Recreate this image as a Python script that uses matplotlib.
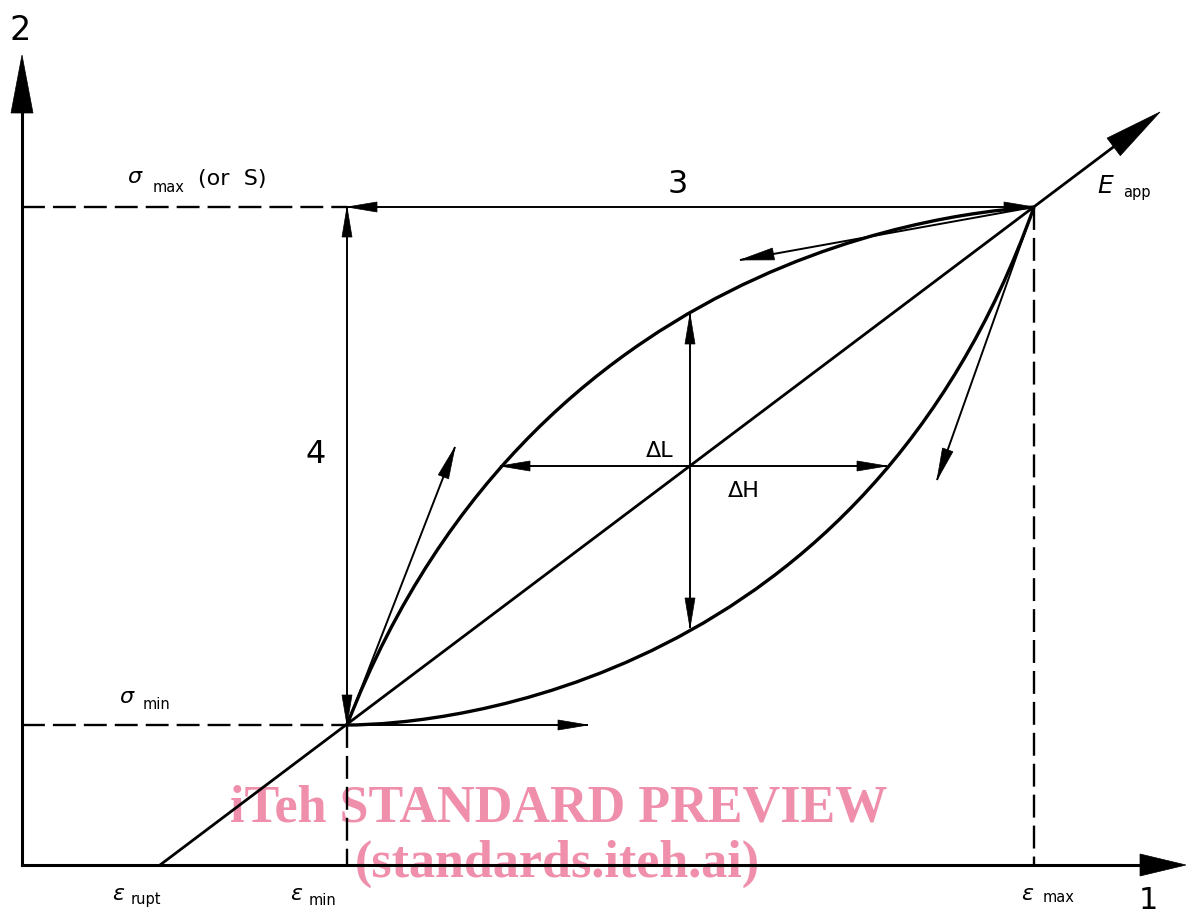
import numpy as np
import matplotlib
matplotlib.use("Agg")
import matplotlib.pyplot as plt
from matplotlib.path import Path
from matplotlib.patches import PathPatch, Polygon

# drawing units = pixels of the original sheet, y grows downwards
origin = (22, 865)
y_axis_tip = 55
x_axis_tip = 1186
eps_rupt = 160
eps_min, sigma_min = 347, 725
eps_max, sigma_max = 1034, 207
e_app_tip = (1160, 112)

# loading / unloading branches (cubic bezier control points)
upper_ctrl = [(347, 725), (542, 222), (1014, 210), (1034, 207)]
lower_ctrl = [(347, 725), (447, 725), (865, 682), (1034, 207)]

# tangent arrows at both ends of the loop
tan_up_min = (455, 447)
tan_low_min = (588, 725)
tan_up_max = (740, 260)
tan_low_max = (937, 480)

# delta L / delta H measuring arrows
dl_x, dl_top, dl_bottom = 690, 314, 628
dh_y, dh_left, dh_right = 466, 500, 887

FONT = ["Liberation Sans Narrow", "DejaVu Sans"]
THICK = 2.2
THIN = 1.4

fig = plt.figure(figsize=(11.86, 9.16), dpi=100)
ax = fig.add_axes([0, 0, 1, 1])
ax.set_xlim(0, 1186)
ax.set_ylim(916, 0)
ax.axis("off")


def head(tip, frm, length=30, width=10):
    tip = np.asarray(tip, float)
    d = tip - np.asarray(frm, float)
    d /= np.hypot(*d)
    n = np.array([-d[1], d[0]])
    base = tip - d * length
    ax.add_patch(Polygon([tip, base + n * width / 2, base - n * width / 2], closed=True,
                         fc="black", ec="black", lw=0.5, zorder=3))


def arrow(p, q, lw=THIN, both=False, length=30, width=10):
    ax.plot([p[0], q[0]], [p[1], q[1]], color="black", lw=lw, solid_capstyle="butt", zorder=2)
    head(q, p, length, width)
    if both:
        head(p, q, length, width)


def label(x, y, sym, sub=None, sub_dx=0, sub_dy=0, size=16, sub_size=10.5, italic=True):
    ax.text(x, y, sym, fontsize=size, family=FONT, style="italic" if italic else "normal",
            va="baseline", ha="left", zorder=4)
    if sub:
        ax.text(x + sub_dx, y + sub_dy, sub, fontsize=sub_size, family=FONT,
                va="baseline", ha="left", zorder=4)


# axes
ax.plot([origin[0], origin[0]], [origin[1], y_axis_tip + 50], color="black", lw=THICK)
head((origin[0], y_axis_tip), origin, 58, 22)
ax.plot([origin[0], x_axis_tip - 40], [origin[1], origin[1]], color="black", lw=THICK)
head((x_axis_tip, origin[1]), origin, 46, 22)

# dashed guides
dash = dict(color="black", lw=1.7, dashes=(9.7, 3.4))
ax.plot([origin[0], eps_min], [sigma_max, sigma_max], **dash)
ax.plot([origin[0], eps_min], [sigma_min, sigma_min], **dash)
ax.plot([eps_min, eps_min], [sigma_min, origin[1]], **dash)
ax.plot([eps_max, eps_max], [sigma_max, origin[1]], **dash)

# apparent modulus line
ax.plot([eps_rupt, e_app_tip[0] - 40], [origin[1], e_app_tip[1] + 30], color="black", lw=2.0)
head(e_app_tip, (eps_rupt, origin[1]), 58, 22)

# loop
for ctrl in (upper_ctrl, lower_ctrl):
    path = Path(ctrl, [Path.MOVETO, Path.CURVE4, Path.CURVE4, Path.CURVE4])
    ax.add_patch(PathPatch(path, fc="none", ec="black", lw=2.4, zorder=2))

# dimension arrows
arrow((eps_min, sigma_max), (eps_max, sigma_max), both=True)
arrow((eps_min, sigma_max), (eps_min, sigma_min), both=True)
arrow((dl_x, dl_top), (dl_x, dl_bottom), both=True)
arrow((dh_left, dh_y), (dh_right, dh_y), both=True)

# tangents
arrow((eps_min, sigma_min), tan_up_min, length=32, width=11)
arrow((eps_min, sigma_min), tan_low_min)
arrow((eps_max, sigma_max), tan_up_max, length=34, width=12)
arrow((eps_max, sigma_max), tan_low_max, length=32, width=11)

# numbered keys
ax.text(20, 40, "2", fontsize=24, family=FONT, ha="center", va="baseline")
ax.text(1148, 915, "1", fontsize=22, family=FONT, ha="center", va="bottom")
ax.text(678, 193, "3", fontsize=23, family=FONT, ha="center", va="baseline")
ax.text(316, 463, "4", fontsize=23, family=FONT, ha="center", va="baseline")

# symbols
label(127, 183, "σ", "max", 26, 9)
ax.text(198, 185, "(or  S)", fontsize=16, family=FONT, va="baseline")
label(119, 703, "σ", "min", 24, 6)
label(112, 900, "ε", "rupt", 19, 4)
label(290, 900, "ε", "min", 19, 5)
label(1021, 900, "ε", "max", 22, 2)
label(1097, 193, "E", "app", 26, 4, size=18)
ax.text(646, 457, "ΔL", fontsize=16, family=FONT, va="baseline")
ax.text(728, 497, "ΔH", fontsize=16, family=FONT, va="baseline")

# preview watermark
wm = dict(fontsize=37.5, family=["Liberation Serif", "DejaVu Serif"], weight="bold",
          color="#ef8fab", ha="center", va="baseline", zorder=1)
ax.text(559, 822, "iTeh STANDARD PREVIEW", **wm)
ax.text(557, 877, "(standards.iteh.ai)", **wm)

plt.savefig("out.png", dpi=100)
